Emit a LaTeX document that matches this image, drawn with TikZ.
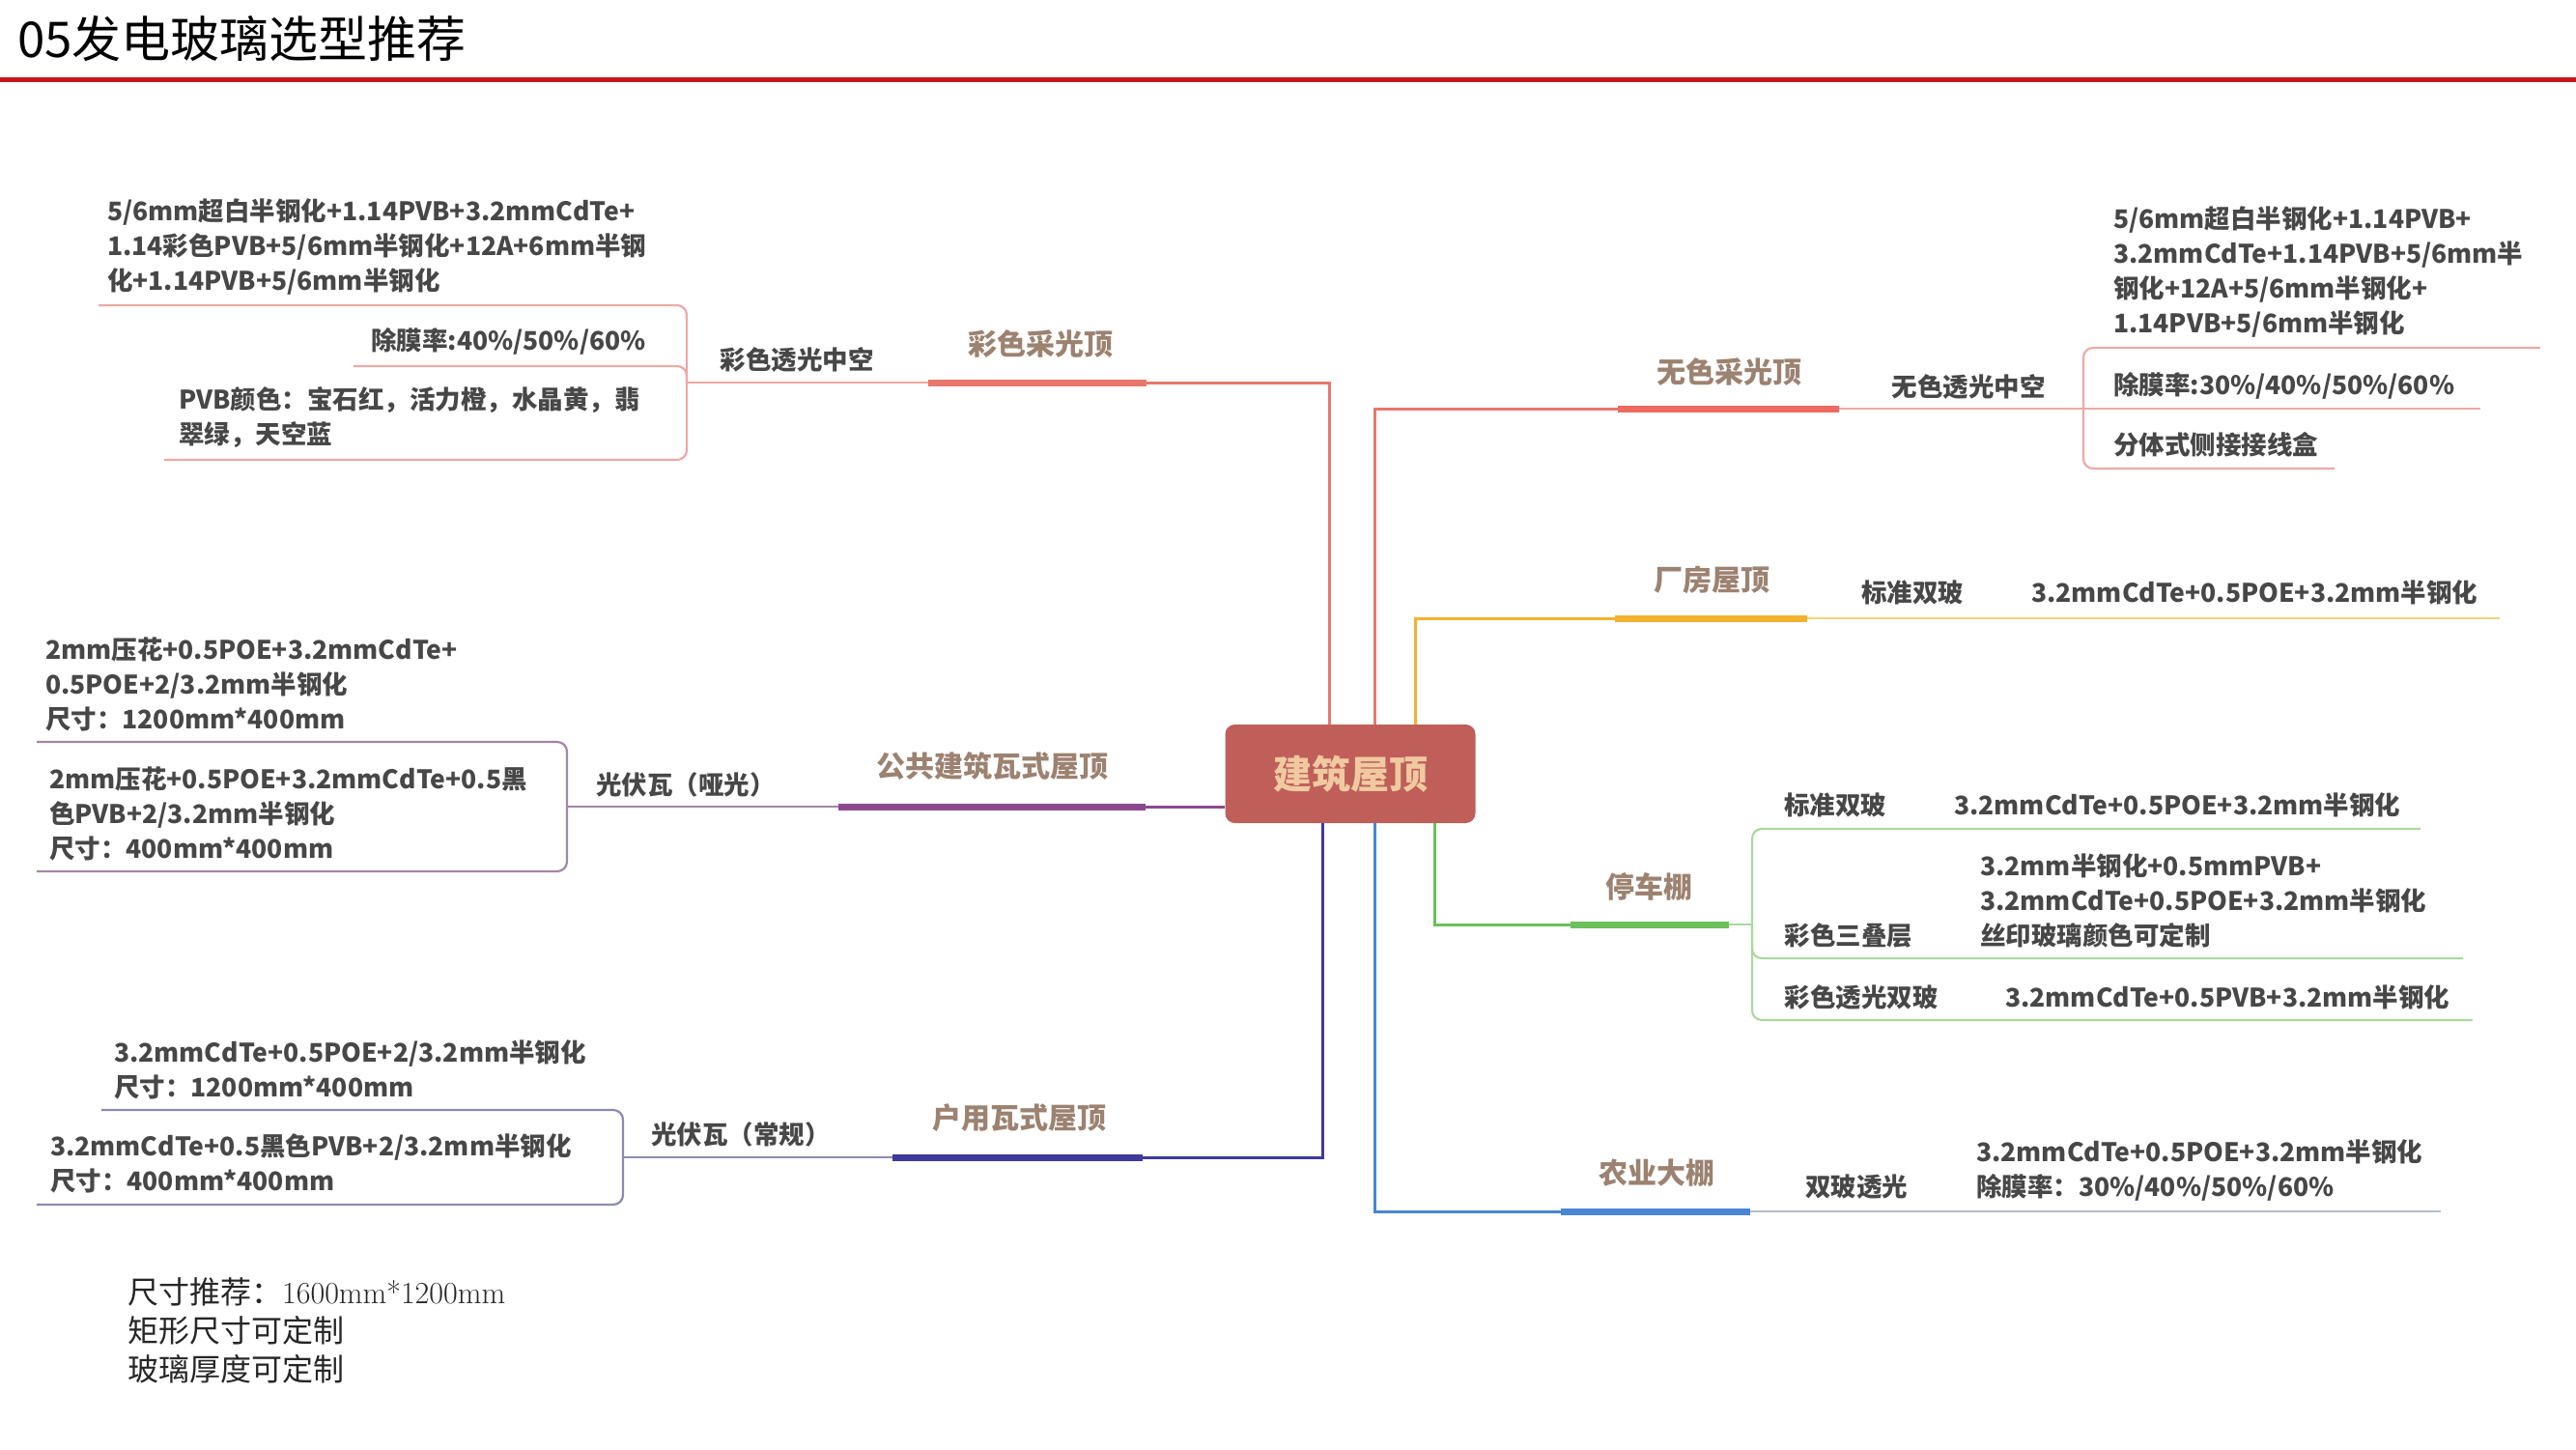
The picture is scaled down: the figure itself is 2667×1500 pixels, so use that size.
\documentclass[tikz,border=0pt]{standalone}
\usepackage{fontspec}
\newfontfamily\cjk{Noto Sans CJK SC}
\usetikzlibrary{positioning}
\definecolor{titlered}{HTML}{C8161D}
\definecolor{rootfill}{HTML}{C05E5A}
\definecolor{roottext}{HTML}{F0C9A0}
\definecolor{topicbrown}{HTML}{9C8270}
\definecolor{textgray}{HTML}{474747}
\definecolor{salmon}{HTML}{E8776C}
\definecolor{salmonlt}{HTML}{EBAAA4}
\definecolor{coral}{HTML}{EE6B5F}
\definecolor{plum}{HTML}{8C4A8E}
\definecolor{plumlt}{HTML}{A486A6}
\definecolor{navyviolet}{HTML}{3F3A9C}
\definecolor{navyvioletlt}{HTML}{8C8AB2}
\definecolor{amber}{HTML}{F2B22E}
\definecolor{amberlt}{HTML}{F6D07C}
\definecolor{grass}{HTML}{6BC05B}
\definecolor{grasslt}{HTML}{AAD9A0}
\definecolor{sky}{HTML}{4A86D4}
\definecolor{skylt}{HTML}{B6BECA}
\tikzset{
	root/.style={fill=rootfill, text=roottext, rounded corners=10pt, minimum width=259pt, minimum height=102pt, inner sep=0pt, font=\cjk\bfseries\fontsize{40}{48}\selectfont},
	topic/.style={text=topicbrown, inner sep=0pt, font=\cjk\bfseries\fontsize{30}{36}\selectfont},
	subtopic/.style={text=textgray, inner sep=0pt, font=\cjk\bfseries\fontsize{26.5}{36}\selectfont},
	leaf/.style={subtopic, align=left, anchor=west},
	bar/.style={line width=7pt},
	stem/.style={line width=3pt},
	twig/.style={line width=2.2pt, rounded corners=10pt}
}

\begin{document}
\begin{tikzpicture}[x=1pt, y=-1pt]
	\useasboundingbox (0,0) rectangle (2667,1500);
	\node [anchor=base west, inner sep=0pt, font=\cjk\fontsize{51}{60}\selectfont] (title) at (18,59) {05发电玻璃选型推荐};
	\draw [titlered, line width=5pt] (0,82) -- (2667,82);

	\node [root] (roof) at (1398,801) {建筑屋顶};

	% 彩色采光顶
	\coordinate (aC) at (1376,396);
	\coordinate (aR) at (1187,396);
	\coordinate (aL) at (961,396);
	\coordinate (aB) at (711,396);
	\coordinate (a1e) at (102,316);
	\coordinate (a2e) at (366,379);
	\coordinate (a3e) at (170,476);
	\draw [stem, salmon] (roof.north -| aC) -- (aC) -- (aR);
	\draw [bar, salmon] (aL) -- (aR);
	\draw [twig, salmonlt] (aB) -- (aL);
	\draw [twig, salmonlt] (aB) |- (a1e);
	\draw [twig, salmonlt] (aB) |- (a2e);
	\draw [twig, salmonlt] (aB) |- (a3e);
	\node [topic] (cscgd) at (1077,356) {彩色采光顶};
	\node [subtopic] (cstgzk) at (825,372) {彩色透光中空};
	\node [leaf] (a1) at (111,256) {5/6mm超白半钢化+1.14PVB+3.2mmCdTe+\\1.14彩色PVB+5/6mm半钢化+12A+6mm半钢\\化+1.14PVB+5/6mm半钢化};
	\node [leaf] (a2) at (384,353) {除膜率:40\%/50\%/60\%};
	\node [leaf] (a3) at (185,432) {PVB颜色：宝石红，活力橙，水晶黄，翡\\翠绿，天空蓝};

	% 公共建筑瓦式屋顶
	\coordinate (bR) at (1186,835);
	\coordinate (bL) at (868,835);
	\coordinate (bB) at (587,835);
	\coordinate (b1e) at (38,768);
	\coordinate (b2e) at (38,902);
	\draw [stem, plum] (roof.west |- bR) -- (bR);
	\draw [bar, plum] (bL) -- (bR);
	\draw [twig, plumlt] (bB) -- (bL);
	\draw [twig, plumlt] (bB) |- (b1e);
	\draw [twig, plumlt] (bB) |- (b2e);
	\node [topic] (ggjz) at (1027,793) {公共建筑瓦式屋顶};
	\node [subtopic] (gfwyg) at (710,812) {光伏瓦（哑光）};
	\node [leaf] (b1) at (47,708) {2mm压花+0.5POE+3.2mmCdTe+\\0.5POE+2/3.2mm半钢化\\尺寸：1200mm*400mm};
	\node [leaf] (b2) at (51,842) {2mm压花+0.5POE+3.2mmCdTe+0.5黑\\色PVB+2/3.2mm半钢化\\尺寸：400mm*400mm};

	% 户用瓦式屋顶
	\coordinate (cC) at (1369,1198);
	\coordinate (cR) at (1183,1198);
	\coordinate (cL) at (924,1198);
	\coordinate (cB) at (645,1198);
	\coordinate (c1e) at (105,1149);
	\coordinate (c2e) at (38,1247);
	\draw [stem, navyviolet] (roof.south -| cC) -- (cC) -- (cR);
	\draw [bar, navyviolet] (cL) -- (cR);
	\draw [twig, navyvioletlt] (cB) -- (cL);
	\draw [twig, navyvioletlt] (cB) |- (c1e);
	\draw [twig, navyvioletlt] (cB) |- (c2e);
	\node [topic] (hywsh) at (1055,1157) {户用瓦式屋顶};
	\node [subtopic] (gfwcg) at (767,1174) {光伏瓦（常规）};
	\node [leaf] (c1) at (118,1107) {3.2mmCdTe+0.5POE+2/3.2mm半钢化\\尺寸：1200mm*400mm};
	\node [leaf] (c2) at (52,1204) {3.2mmCdTe+0.5黑色PVB+2/3.2mm半钢化\\尺寸：400mm*400mm};

	% 无色采光顶
	\coordinate (dC) at (1423,423);
	\coordinate (dL) at (1675,423);
	\coordinate (dR) at (1904,423);
	\coordinate (dB) at (2157,423);
	\coordinate (d1e) at (2630,360);
	\coordinate (d2e) at (2568,423);
	\coordinate (d3e) at (2417,485);
	\draw [stem, salmon] (roof.north -| dC) -- (dC) -- (dL);
	\draw [bar, coral] (dL) -- (dR);
	\draw [twig, salmonlt] (dR) -- (dB);
	\draw [twig, salmonlt] (dB) |- (d1e);
	\draw [twig, salmonlt] (dB) -- (d2e);
	\draw [twig, salmonlt] (dB) |- (d3e);
	\node [topic] (wscgd) at (1790,385) {无色采光顶};
	\node [subtopic] (wstgzk) at (2038,400) {无色透光中空};
	\node [leaf] (d1) at (2188,282) {5/6mm超白半钢化+1.14PVB+\\3.2mmCdTe+1.14PVB+5/6mm半\\钢化+12A+5/6mm半钢化+\\1.14PVB+5/6mm半钢化};
	\node [leaf] (d2) at (2188,399) {除膜率:30\%/40\%/50\%/60\%};
	\node [leaf] (d3) at (2188,460) {分体式侧接接线盒};

	% 厂房屋顶
	\coordinate (eC) at (1465,640);
	\coordinate (eL) at (1672,640);
	\coordinate (eR) at (1871,640);
	\coordinate (e1e) at (2588,640);
	\draw [stem, amber] (roof.north -| eC) -- (eC) -- (eL);
	\draw [bar, amber] (eL) -- (eR);
	\draw [twig, amberlt] (eR) -- (e1e);
	\node [topic] (cfwd) at (1772,600) {厂房屋顶};
	\node [subtopic] (bzsb) at (1980,613) {标准双玻};
	\node [leaf] (e1) at (2103,613) {3.2mmCdTe+0.5POE+3.2mm半钢化};

	% 停车棚
	\coordinate (fC) at (1485,957);
	\coordinate (fL) at (1626,957);
	\coordinate (fR) at (1790,957);
	\coordinate (fB) at (1814,957);
	\coordinate (f1e) at (2506,858);
	\coordinate (f2e) at (2550,992);
	\coordinate (f3e) at (2560,1056);
	\draw [stem, grass] (roof.south -| fC) -- (fC) -- (fL);
	\draw [bar, grass] (fL) -- (fR);
	\draw [twig, grasslt] (fR) -- (fB);
	\draw [twig, grasslt] (fB) |- (f1e);
	\draw [twig, grasslt] (fB) |- (f2e);
	\draw [twig, grasslt] (fB) |- (f3e);
	\node [topic] (tcp) at (1707,918) {停车棚};
	\node [subtopic] (f1) at (1900,833) {标准双玻};
	\node [subtopic] (f2) at (1914,968) {彩色三叠层};
	\node [subtopic] (f3) at (1927,1032) {彩色透光双玻};
	\node [leaf] (f1a) at (2023,833) {3.2mmCdTe+0.5POE+3.2mm半钢化};
	\node [leaf] (f2a) at (2050,932) {3.2mm半钢化+0.5mmPVB+\\3.2mmCdTe+0.5POE+3.2mm半钢化\\丝印玻璃颜色可定制};
	\node [leaf] (f3a) at (2076,1032) {3.2mmCdTe+0.5PVB+3.2mm半钢化};

	% 农业大棚
	\coordinate (gC) at (1423,1254);
	\coordinate (gL) at (1616,1254);
	\coordinate (gR) at (1812,1254);
	\coordinate (g1e) at (2527,1254);
	\draw [stem, sky] (roof.south -| gC) -- (gC) -- (gL);
	\draw [bar, sky] (gL) -- (gR);
	\draw [twig, skylt] (gR) -- (g1e);
	\node [topic] (nydp) at (1715,1214) {农业大棚};
	\node [subtopic] (sbtg) at (1922,1229) {双玻透光};
	\node [leaf] (g1) at (2046,1211) {3.2mmCdTe+0.5POE+3.2mm半钢化\\除膜率：30\%/40\%/50\%/60\%};

	\node [anchor=west, align=left, inner sep=0pt, text=black!85, font=\cjk\fontsize{32}{40}\selectfont] (note) at (132,1377) {尺寸推荐：{\rmfamily 1600mm*1200mm}\\矩形尺寸可定制\\玻璃厚度可定制};
\end{tikzpicture}
\end{document}
